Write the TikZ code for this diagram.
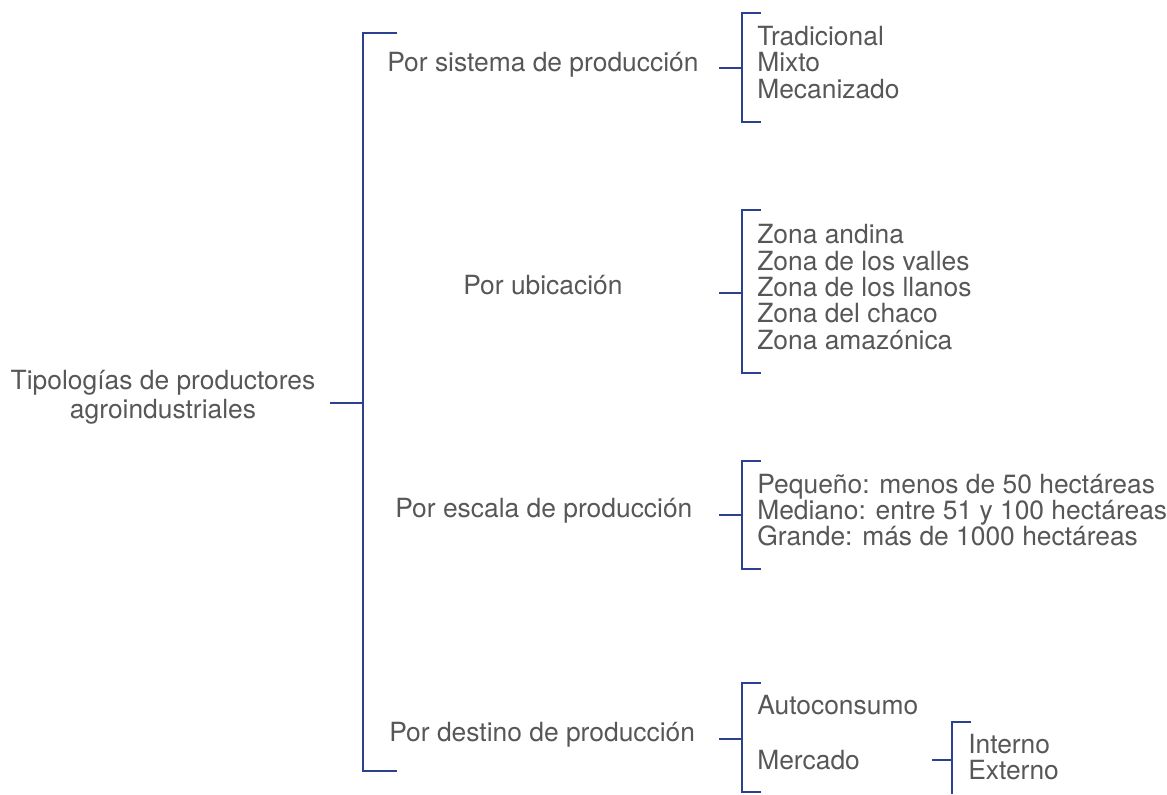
\documentclass[tikz,border=0pt]{standalone}
\usepackage{fontspec}
\setmainfont{TeX Gyre Heros}
\definecolor{brk}{HTML}{2B4190}
\definecolor{txt}{HTML}{575757}
\begin{document}
\begin{tikzpicture}[x=0.75pt,y=-0.75pt,
  lbl/.style={inner sep=0pt,anchor=base west,text=txt,font=\fontsize{19.8}{20.2}\selectfont},
  brline/.style={draw=brk,line width=2.1pt}]
\useasboundingbox (0,0) rectangle (1167,794);
% root
\node[inner sep=0pt,text=txt,align=center,font=\fontsize{19.8}{21.8}\selectfont] (root) at (163,397) {Tipologías de productores\\agroindustriales};
% level 1
\node[lbl] (s1) at (387,71) {Por sistema de producción};
\node[lbl] (s2) at (463,294) {Por ubicación};
\node[lbl] (s3) at (395,517) {Por escala de producción};
\node[lbl] (s4) at (389,741) {Por destino de producción};
% main bracket
\coordinate (m0) at (330,403);
\coordinate (m1) at (363,403);
\coordinate (mt) at (363,33);
\coordinate (mb) at (363,771);
\draw[brline] (m0) -- (m1);
\draw[brline] (397,33) -- (mt) -- (mb) -- (397,771);
% sub brackets
\foreach \n/\yt/\yb/\ys in {1/13/122/68, 2/210/373/293, 3/461/569/515, 4/683/792/739}{
  \coordinate (a\n) at (719,\ys);
  \coordinate (b\n) at (742,\ys);
  \draw[brline] (a\n) -- (b\n);
  \draw[brline] (761,\yt) -- (742,\yt) -- (742,\yb) -- (761,\yb);
}
% items
\node[lbl] (t1) at (757,45) {Tradicional};
\node[lbl] (t2) at (757,71) {Mixto};
\node[lbl] (t3) at (757,98) {Mecanizado};
\node[lbl] (u1) at (757,243) {Zona andina};
\node[lbl] (u2) at (757,270) {Zona de los valles};
\node[lbl] (u3) at (757,296) {Zona de los llanos};
\node[lbl] (u4) at (757,322) {Zona del chaco};
\node[lbl] (u5) at (757,349) {Zona amazónica};
\node[lbl] (e1) at (757,493) {Pequeño: menos de 50 hectáreas};
\node[lbl] (e2) at (757,519) {Mediano: entre 51 y 100 hectáreas};
\node[lbl] (e3) at (757,545) {Grande: más de 1000 hectáreas};
\node[lbl] (d1) at (757,714) {Autoconsumo};
\node[lbl] (d2) at (757,769) {Mercado};
% sub bracket
\coordinate (c0) at (932,760);
\coordinate (c1) at (952,760);
\draw[brline] (c0) -- (c1);
\draw[brline] (971,722) -- (952,722) -- (952,794);
\node[lbl] (i1) at (968,753) {Interno};
\node[lbl] (i2) at (968,779) {Externo};
\end{tikzpicture}
\end{document}
